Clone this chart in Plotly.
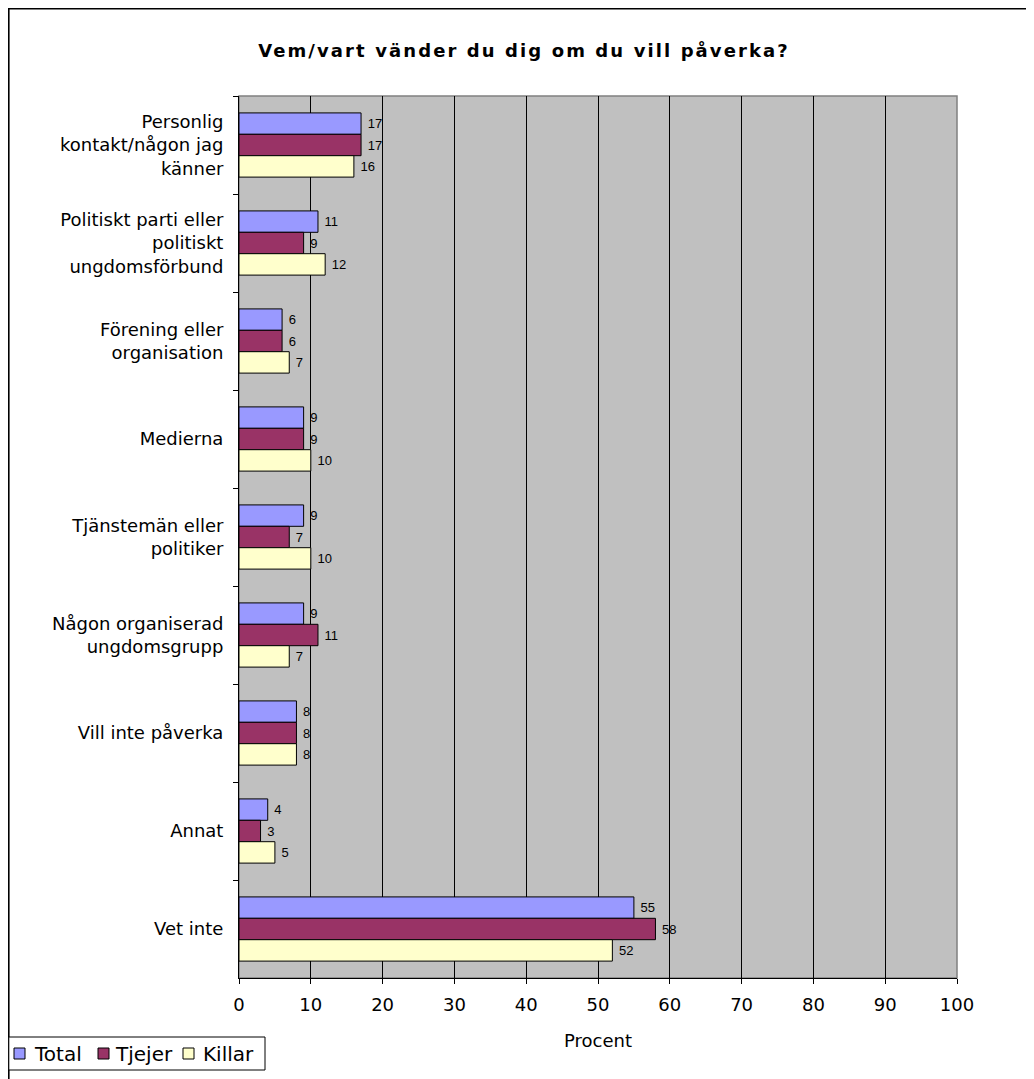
import plotly.graph_objects as go

categories = [
    "Personlig<br>kontakt/någon jag<br>känner",
    "Politiskt parti eller<br>politiskt<br>ungdomsförbund",
    "Förening eller<br>organisation",
    "Medierna",
    "Tjänstemän eller<br>politiker",
    "Någon organiserad<br>ungdomsgrupp",
    "Vill inte påverka",
    "Annat",
    "Vet inte",
]
total = [17, 11, 6, 9, 9, 9, 8, 4, 55]
tjejer = [17, 9, 6, 9, 7, 11, 8, 3, 58]
killar = [16, 12, 7, 10, 10, 7, 8, 5, 52]
series_names = ["Total", "Tjejer", "Killar"]
series_values = [total, tjejer, killar]
series_colors = ["#9999FF", "#993366", "#FFFFCC"]
x_ticks = list(range(0, 101, 10))

FONT = "DejaVu Sans, Verdana, sans-serif"
NBSP = "\u00a0"

fig = go.Figure()
for name, vals, col in zip(series_names, series_values, series_colors):
    fig.add_trace(go.Bar(
        y=categories, x=vals, name=name, orientation="h",
        marker=dict(color=col, line=dict(color="black", width=1)),
        text=[NBSP + str(v) for v in vals], textposition="outside",
        textfont=dict(family="Liberation Sans, Arial", size=13, color="black"),
        cliponaxis=False, showlegend=False,
    ))

# page has an 8px body margin; work in screen pixels of the reference
OFF = 8
L, R, T, B = 239, 957, 96, 978
W, H = 1034 - OFF, 1079 - OFF
pw, ph = R - L, B - T


def px(x):
    return (x - L) / pw


def py(y):
    return (B - y) / ph


shapes = [
    dict(type="rect", xref="paper", yref="paper", x0=0, x1=1, y0=0, y1=1,
         line=dict(color="#808080", width=1.5), fillcolor="rgba(0,0,0,0)", layer="below"),
    dict(type="rect", xref="paper", yref="paper", x0=px(8.8), x1=px(1200), y0=py(8.8), y1=py(1200),
         line=dict(color="black", width=1.6), fillcolor="rgba(0,0,0,0)"),
    # legend box
    dict(type="rect", xref="paper", yref="paper", x0=px(8.8), x1=px(265), y0=py(1037), y1=py(1070),
         line=dict(color="black", width=1), fillcolor="white"),
]
annotations = []
leg_sq_x = [14, 98, 183]
leg_tx_x = [32, 113, 201]
for name, col, sx, tx in zip(series_names, series_colors, leg_sq_x, leg_tx_x):
    shapes.append(dict(type="rect", xref="paper", yref="paper", x0=px(sx), x1=px(sx + 11),
                       y0=py(1048), y1=py(1059), line=dict(color="black", width=1), fillcolor=col))
    annotations.append(dict(text=name, xref="paper", yref="paper", x=px(tx), y=py(1054),
                            xanchor="left", yanchor="middle", showarrow=False,
                            font=dict(family=FONT, size=20, color="black")))

fig.update_layout(
    width=W, height=H,
    margin=dict(l=L - OFF, r=W - (R - OFF), t=T - OFF, b=H - (B - OFF), autoexpand=False),
    paper_bgcolor="white", plot_bgcolor="#C0C0C0",
    barmode="group", bargap=0.345, bargroupgap=0,
    font=dict(family=FONT, size=18, color="black"),
    title=dict(text="<b>Vem/vart vänder du dig om du vill påverka?</b>",
               font=dict(family=FONT, size=18, color="black"),
               xref="container", x=(524 - OFF) / W, xanchor="center",
               y=1 - (51 - OFF) / H, yanchor="middle"),
    showlegend=False,
    xaxis=dict(range=[0, 100], tickvals=x_ticks, showgrid=True, gridcolor="black", gridwidth=1,
               showline=True, linecolor="black", linewidth=1, ticks="outside", ticklen=5,
               tickcolor="black", zeroline=False, fixedrange=True, ticklabelstandoff=5,
               tickfont=dict(size=18),
               title=dict(text="Procent", standoff=20, font=dict(size=18))),
    yaxis=dict(autorange="reversed", type="category", tickson="boundaries", ticks="outside",
               ticklen=5, tickcolor="black", showline=True, linecolor="black", linewidth=1,
               showgrid=False, ticklabelstandoff=11, tickfont=dict(size=18), fixedrange=True),
    shapes=shapes,
    annotations=annotations,
)

post = "document.querySelectorAll('.gtitle').forEach(function(e){e.style.letterSpacing='2.1px';});"
fig.write_html("out.html", post_script=post)
